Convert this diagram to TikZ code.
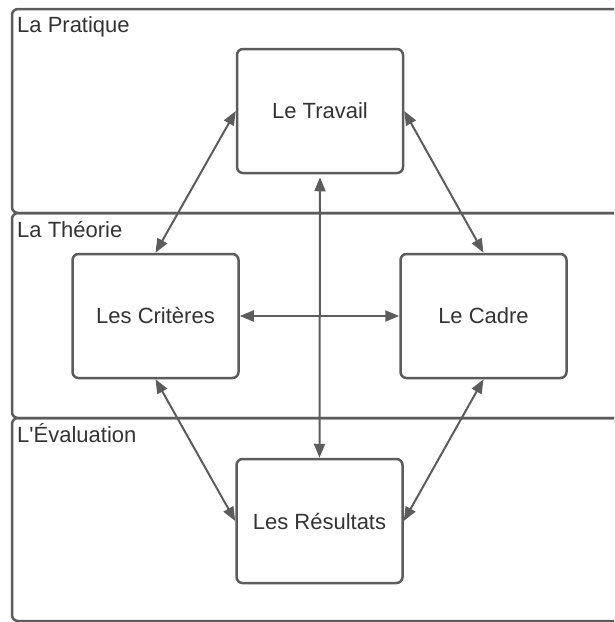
\documentclass[tikz,border=0pt]{standalone}
\usepackage{fontspec}
\newfontfamily\diagfont{Liberation Sans}
\usetikzlibrary{arrows.meta}
\definecolor{linegray}{HTML}{5C5C5C}
\definecolor{textgray}{HTML}{333333}
\begin{document}
\begin{tikzpicture}[x=1pt,y=-1pt,
  lane/.style={draw=linegray, line width=2.5pt, rounded corners=6pt},
  lanelabel/.style={anchor=base west, inner sep=0pt, text=textgray,
    font=\diagfont\fontsize{22}{26}\selectfont},
  stage/.style={draw=linegray, line width=2.5pt, rounded corners=6pt,
    minimum width=166pt, minimum height=124pt, inner sep=0pt, text=textgray,
    font=\diagfont\fontsize{22}{26}\selectfont},
  link/.style={draw=linegray, line width=2pt,
    {Triangle[length=14pt,width=11pt]}-{Triangle[length=14pt,width=11pt]}}
]
\useasboundingbox (0,0) rectangle (614,622);
\clip (0,0) rectangle (614,622);

% swimlanes, running past the right edge
\draw[lane] (12,9) rectangle (660,213);
\draw[lane] (12,213) rectangle (660,418);
\draw[lane] (12,418) rectangle (660,621);

\node[lanelabel] (pratique) at (17,32) {La Pratique};
\node[lanelabel] (theorie) at (17,237) {La Théorie};
\node[lanelabel] (evaluation) at (17,442) {L'Évaluation};

% stages
\node[stage] (travail) at (320,111) {Le Travail};
\node[stage] (criteres) at (155.5,316) {Les Critères};
\node[stage] (cadre) at (483.5,316) {Le Cadre};
\node[stage] (resultats) at (319.5,521) {Les Résultats};

% relations
\draw[link] (travail.west) -- (criteres.north);
\draw[link] (travail.east) -- (cadre.north);
\draw[link] (criteres.south) -- (resultats.west);
\draw[link] (cadre.south) -- (resultats.east);
\draw[link] (criteres.east) -- (cadre.west);
\draw[link, shorten <=3pt] (travail.south) -- (resultats.north);
\end{tikzpicture}
\end{document}
